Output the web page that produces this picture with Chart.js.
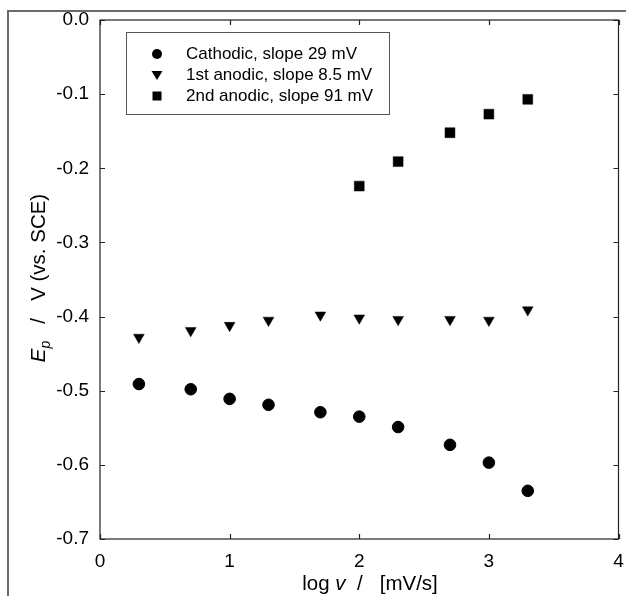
<!DOCTYPE html>
<html>
<head>
<meta charset="utf-8">
<script src="https://cdn.jsdelivr.net/npm/chart.js@4.4.1/dist/chart.umd.min.js"></script>
<style>
    html, body { margin: 0; padding: 0; background: #fff; }
    #wrap { width: 626px; height: 596px; position: relative; }
</style>
</head>
<body>
<div id="wrap"><canvas id="peak-chart" width="626" height="596"></canvas></div>
<script>
// ── Data ─────────────────────────────────────────────────────────────────────
const logV      = [0.3, 0.7, 1.0, 1.3, 1.7, 2.0, 2.3, 2.7, 3.0, 3.3];
const cathodic  = [-0.491, -0.498, -0.511, -0.519, -0.529, -0.535, -0.549, -0.573, -0.597, -0.635];
const anodic1   = [-0.428, -0.419, -0.412, -0.405, -0.398, -0.402, -0.404, -0.404, -0.405, -0.391];
const logV2     = [2.0, 2.3, 2.7, 3.0, 3.3];
const anodic2   = [-0.224, -0.191, -0.152, -0.127, -0.107];

const seriesNames = ['Cathodic, slope 29 mV', '1st anodic, slope 8.5 mV', '2nd anodic, slope 91 mV'];
const xTicks = [0, 1, 2, 3, 4];
const yTicks = [0.0, -0.1, -0.2, -0.3, -0.4, -0.5, -0.6, -0.7];

const FONT = 'Arial, "Liberation Sans", sans-serif';

function toPoints(xs, ys) {
    return xs.map((x, i) => ({ x, y: ys[i] }));
}

// ── Frame, inward ticks, axis titles, legend ─────────────────────────────────
const decorPlugin = {
    id: 'decor',
    afterDatasetsDraw(chart) {
        const { ctx, chartArea: a, scales } = chart;
        ctx.save();

        // outer figure frame (left + top only visible)
        ctx.strokeStyle = '#6b6b6b';
        ctx.lineWidth = 2;
        ctx.beginPath();
        ctx.moveTo(8, 596);
        ctx.lineTo(8, 11);
        ctx.lineTo(626, 11);
        ctx.stroke();

        // plot box
        ctx.strokeStyle = '#222';
        ctx.lineWidth = 1.2;
        ctx.strokeRect(a.left, a.top, a.right - a.left, a.bottom - a.top);

        // inward tick marks on all four sides
        const tl = 5;
        ctx.beginPath();
        xTicks.forEach(v => {
            const px = Math.round(scales.x.getPixelForValue(v)) + 0.5;
            ctx.moveTo(px, a.bottom); ctx.lineTo(px, a.bottom - tl);
            ctx.moveTo(px, a.top);    ctx.lineTo(px, a.top + tl);
        });
        yTicks.forEach(v => {
            const py = Math.round(scales.y.getPixelForValue(v)) + 0.5;
            ctx.moveTo(a.left, py);  ctx.lineTo(a.left + tl, py);
            ctx.moveTo(a.right, py); ctx.lineTo(a.right - tl, py);
        });
        ctx.stroke();

        ctx.fillStyle = '#000';
        ctx.textBaseline = 'alphabetic';
        ctx.textAlign = 'left';

        // x title: log v  /  [mV/s]
        const xParts = [
            { t: 'log ', f: '20.5px ' + FONT },
            { t: 'v', f: 'italic 20.5px ' + FONT },
            { t: '  /   [mV/s]', f: '20.5px ' + FONT },
        ];
        drawParts(ctx, xParts, 370, 590);

        // y title: E_p / V (vs. SCE), rotated
        ctx.save();
        ctx.translate(45, 278);
        ctx.rotate(-Math.PI / 2);
        const yParts = [
            { t: 'E', f: 'italic 20.5px ' + FONT },
            { t: 'p', f: 'italic 14px ' + FONT, dy: 5 },
            { t: '   /   V (vs. SCE)', f: '20.5px ' + FONT },
        ];
        drawParts(ctx, yParts, 0, 0);
        ctx.restore();

        // legend box
        ctx.strokeStyle = '#555';
        ctx.lineWidth = 1;
        ctx.strokeRect(126.5, 32.5, 263, 82);
        ctx.font = '17px ' + FONT;
        ctx.textBaseline = 'middle';
        const rows = [54, 75, 96];
        rows.forEach((ry, i) => {
            drawMarker(ctx, i, 157, ry);
            ctx.fillStyle = '#000';
            ctx.fillText(seriesNames[i], 186, ry);
        });

        ctx.restore();
    }
};

function drawParts(ctx, parts, cx, y) {
    let total = 0;
    parts.forEach(p => { ctx.font = p.f; p.w = ctx.measureText(p.t).width; total += p.w; });
    let x = cx - total / 2;
    parts.forEach(p => {
        ctx.font = p.f;
        ctx.fillText(p.t, x, y + (p.dy || 0));
        x += p.w;
    });
}

function drawMarker(ctx, kind, x, y) {
    ctx.fillStyle = '#000';
    ctx.beginPath();
    if (kind === 0) {
        ctx.arc(x, y, 5, 0, Math.PI * 2);
    } else if (kind === 1) {
        ctx.moveTo(x - 5.5, y - 4);
        ctx.lineTo(x + 5.5, y - 4);
        ctx.lineTo(x, y + 5);
        ctx.closePath();
    } else {
        ctx.rect(x - 4.5, y - 4.5, 9, 9);
    }
    ctx.fill();
}

// ── Chart ────────────────────────────────────────────────────────────────────
const tickFont = { family: FONT, size: 19 };

new Chart(document.getElementById('peak-chart'), {
    type: 'scatter',
    data: {
        datasets: [
            {
                label: seriesNames[0],
                data: toPoints(logV, cathodic),
                pointStyle: 'circle',
                pointRadius: 5.8,
                backgroundColor: '#000',
                borderColor: '#000',
                borderWidth: 1,
            },
            {
                label: seriesNames[1],
                data: toPoints(logV, anodic1),
                pointStyle: 'triangle',
                rotation: 180,
                pointRadius: 6.2,
                backgroundColor: '#000',
                borderColor: '#000',
                borderWidth: 0.5,
            },
            {
                label: seriesNames[2],
                data: toPoints(logV2, anodic2),
                pointStyle: 'rect',
                pointRadius: 7,
                backgroundColor: '#000',
                borderColor: '#000',
                borderWidth: 0.5,
            },
        ],
    },
    options: {
        responsive: false,
        animation: false,
        events: [],
        devicePixelRatio: 1,
        layout: { padding: { top: 20, right: 5, left: 0, bottom: 0 } },
        plugins: {
            legend: { display: false },
            tooltip: { enabled: false },
        },
        scales: {
            x: {
                type: 'linear',
                min: 0, max: 4,
                afterFit(scale) {
                    scale.height = 57;
                    scale.paddingLeft = 0;
                    scale.paddingRight = 0;
                },
                afterBuildTicks(scale) { scale.ticks = xTicks.map(v => ({ value: v })); },
                grid: { display: false, drawTicks: false },
                border: { display: false },
                ticks: {
                    color: '#000', font: tickFont, padding: 11,
                    callback: v => String(v),
                },
            },
            y: {
                type: 'linear',
                min: -0.7, max: 0,
                afterFit(scale) {
                    scale.width = 100;
                    scale.paddingTop = 0;
                    scale.paddingBottom = 0;
                },
                afterBuildTicks(scale) { scale.ticks = yTicks.map(v => ({ value: v })); },
                grid: { display: false, drawTicks: false },
                border: { display: false },
                ticks: {
                    color: '#000', font: tickFont, padding: 11,
                    callback: v => Number(v).toFixed(1),
                },
            },
        },
    },
    plugins: [decorPlugin],
});
</script>
</body>
</html>
